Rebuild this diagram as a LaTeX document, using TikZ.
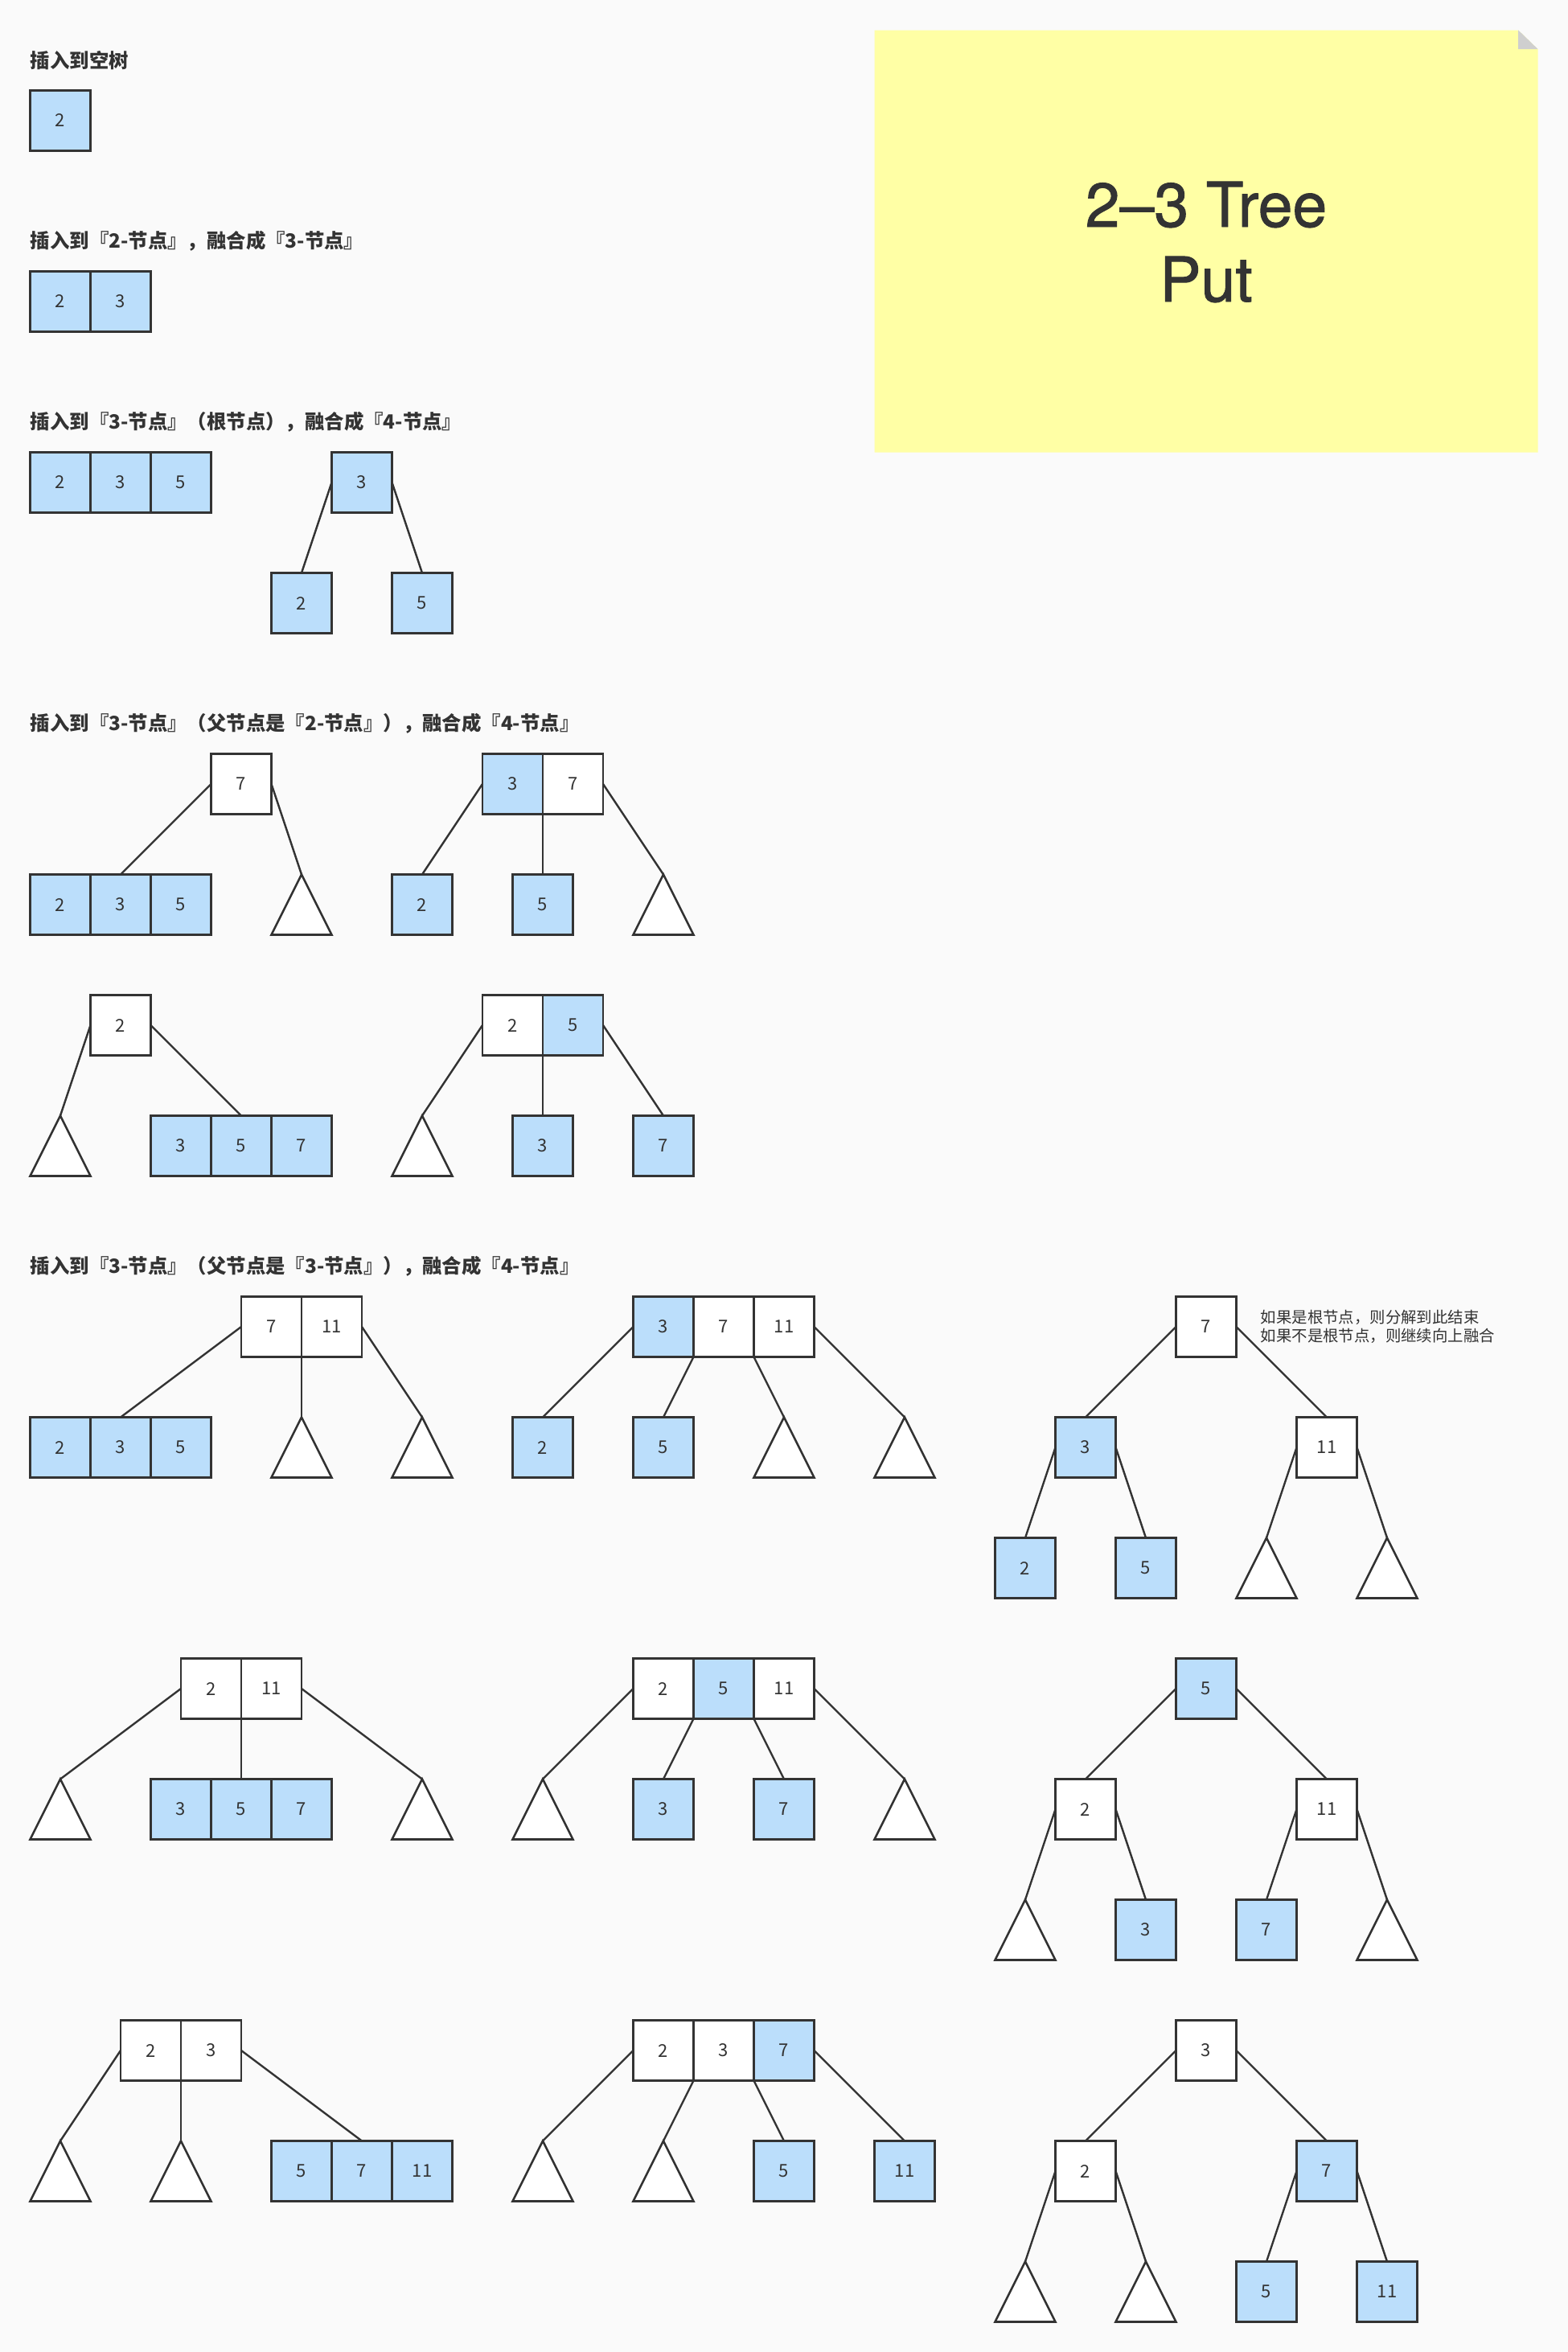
\documentclass[tikz,border=0pt]{standalone}
\usepackage{fontspec}
\newfontfamily\cjk{Noto Sans CJK SC}
\newfontfamily\heros[FakeBold=1.2]{TeX Gyre Heros}
\definecolor{ink}{HTML}{333333}
\definecolor{lblue}{HTML}{BBDEFB}
\definecolor{bg}{HTML}{FAFAFA}
\definecolor{sticky}{HTML}{FFFFA5}
\definecolor{foldgray}{HTML}{CFCFCF}
\newcommand\mytri[2]{\coordinate (#1) at (#2); \draw[tri] (#1) -- ++(-1,2) -- ++(2,0) -- cycle;}
\begin{document}
\begin{tikzpicture}[x=18.75pt,y=-18.75pt,
  cell/.style={draw=ink, line width=1.3pt, minimum width=37.5pt, minimum height=37.5pt, inner sep=0pt, outer sep=0pt, text=ink, font=\cjk\fontsize{11}{13}\selectfont},
  bc/.style={cell, fill=lblue},
  wc/.style={cell, fill=white},
  edge/.style={draw=ink, line width=1.2pt},
  tri/.style={draw=ink, line width=1.3pt, fill=white},
  head/.style={anchor=west, inner sep=0pt, text=ink, font=\cjk\bfseries\fontsize{12.2}{14}\selectfont}]
\fill[bg] (0,0) rectangle (52,78);
\useasboundingbox (0,0) rectangle (52,78);

% sticky note
\fill[sticky] (29,1) -- (50.35,1) -- (51,1.63) -- (51,15) -- (29,15) -- cycle;
\fill[foldgray] (50.35,1) -- (50.35,1.63) -- (51,1.63) -- cycle;
\node[anchor=base, inner sep=0pt, text=ink, font=\heros\fontsize{38.5}{46}\selectfont] (title1) at (40,7.52) {2–3 Tree};
\node[anchor=base, inner sep=0pt, text=ink, font=\heros\fontsize{38.5}{46}\selectfont] (title2) at (40,10) {Put};

% section 1
\node[head] (h1) at (1,2) {插入到空树};
\node[bc] (s1a) at (2,4) {2};

% section 2
\node[head] (h2) at (1,8) {插入到『2-节点』，融合成『3-节点』};
\node[bc] (s2a) at (2,10) {2};
\node[bc] (s2b) at (4,10) {3};

% section 3
\node[head] (h3) at (1,14) {插入到『3-节点』（根节点），融合成『4-节点』};
\node[bc] (s3a) at (2,16) {2};
\node[bc] (s3b) at (4,16) {3};
\node[bc] (s3c) at (6,16) {5};
\node[bc] (r3) at (12,16) {3};
\node[bc] (r2) at (10,20) {2};
\node[bc] (r5) at (14,20) {5};
\draw[edge] (r3.west) -- (r2.north);
\draw[edge] (r3.east) -- (r5.north);

% section 4
\node[head] (h4) at (1,24) {插入到『3-节点』（父节点是『2-节点』），融合成『4-节点』};
% tree A
\node[wc] (a7) at (8,26) {7};
\node[bc] (a2) at (2,30) {2};
\node[bc] (a3) at (4,30) {3};
\node[bc] (a5) at (6,30) {5};
\mytri{at1}{10,29}
\draw[edge] (a7.west) -- (a3.north);
\draw[edge] (a7.east) -- (at1);
% tree B
\node[bc] (b3) at (17,26) {3};
\node[wc] (b7) at (19,26) {7};
\node[bc] (b2) at (14,30) {2};
\node[bc] (b5) at (18,30) {5};
\mytri{bt1}{22,29}
\draw[edge] (b3.west) -- (b2.north);
\draw[edge] (b3.south east) -- (b5.north);
\draw[edge] (b7.east) -- (bt1);
% tree C
\node[wc] (c2) at (4,34) {2};
\mytri{ct1}{2,37}
\node[bc] (c3) at (6,38) {3};
\node[bc] (c5) at (8,38) {5};
\node[bc] (c7) at (10,38) {7};
\draw[edge] (c2.west) -- (ct1);
\draw[edge] (c2.east) -- (c5.north);
% tree D
\node[wc] (d2) at (17,34) {2};
\node[bc] (d5) at (19,34) {5};
\mytri{dt1}{14,37}
\node[bc] (d3) at (18,38) {3};
\node[bc] (d7) at (22,38) {7};
\draw[edge] (d2.west) -- (dt1);
\draw[edge] (d2.south east) -- (d3.north);
\draw[edge] (d5.east) -- (d7.north);

% section 5
\node[head] (h5) at (1,42) {插入到『3-节点』（父节点是『3-节点』），融合成『4-节点』};
% tree E
\node[wc] (e7) at (9,44) {7};
\node[wc] (e11) at (11,44) {11};
\node[bc] (e2) at (2,48) {2};
\node[bc] (e3) at (4,48) {3};
\node[bc] (e5) at (6,48) {5};
\mytri{et1}{10,47}
\mytri{et2}{14,47}
\draw[edge] (e7.west) -- (e3.north);
\draw[edge] (e7.south east) -- (et1);
\draw[edge] (e11.east) -- (et2);
% tree F
\node[bc] (f3) at (22,44) {3};
\node[wc] (f7) at (24,44) {7};
\node[wc] (f11) at (26,44) {11};
\node[bc] (f2) at (18,48) {2};
\node[bc] (f5) at (22,48) {5};
\mytri{ft1}{26,47}
\mytri{ft2}{30,47}
\draw[edge] (f3.west) -- (f2.north);
\draw[edge] (f3.south east) -- (f5.north);
\draw[edge] (f7.south east) -- (ft1);
\draw[edge] (f11.east) -- (ft2);
% tree G
\node[wc] (g7) at (40,44) {7};
\node[bc] (g3) at (36,48) {3};
\node[wc] (g11) at (44,48) {11};
\node[bc] (g2) at (34,52) {2};
\node[bc] (g5) at (38,52) {5};
\mytri{gt1}{42,51}
\mytri{gt2}{46,51}
\draw[edge] (g7.west) -- (g3.north);
\draw[edge] (g7.east) -- (g11.north);
\draw[edge] (g3.west) -- (g2.north);
\draw[edge] (g3.east) -- (g5.north);
\draw[edge] (g11.west) -- (gt1);
\draw[edge] (g11.east) -- (gt2);
\node[anchor=west, align=left, inner sep=0pt, text=ink, font=\cjk\fontsize{9.7}{11.5}\selectfont] (note) at (41.8,44) {如果是根节点，则分解到此结束\\如果不是根节点，则继续向上融合};

% tree H
\node[wc] (h2n) at (7,56) {2};
\node[wc] (h11) at (9,56) {11};
\mytri{ht1}{2,59}
\node[bc] (hh3) at (6,60) {3};
\node[bc] (hh5) at (8,60) {5};
\node[bc] (hh7) at (10,60) {7};
\mytri{ht2}{14,59}
\draw[edge] (h2n.west) -- (ht1);
\draw[edge] (h2n.south east) -- (hh5.north);
\draw[edge] (h11.east) -- (ht2);
% tree I
\node[wc] (i2) at (22,56) {2};
\node[bc] (i5) at (24,56) {5};
\node[wc] (i11) at (26,56) {11};
\mytri{it1}{18,59}
\node[bc] (i3) at (22,60) {3};
\node[bc] (i7) at (26,60) {7};
\mytri{it2}{30,59}
\draw[edge] (i2.west) -- (it1);
\draw[edge] (i2.south east) -- (i3.north);
\draw[edge] (i5.south east) -- (i7.north);
\draw[edge] (i11.east) -- (it2);
% tree J
\node[bc] (j5) at (40,56) {5};
\node[wc] (j2) at (36,60) {2};
\node[wc] (j11) at (44,60) {11};
\mytri{jt1}{34,63}
\node[bc] (j3) at (38,64) {3};
\node[bc] (j7) at (42,64) {7};
\mytri{jt2}{46,63}
\draw[edge] (j5.west) -- (j2.north);
\draw[edge] (j5.east) -- (j11.north);
\draw[edge] (j2.west) -- (jt1);
\draw[edge] (j2.east) -- (j3.north);
\draw[edge] (j11.west) -- (j7.north);
\draw[edge] (j11.east) -- (jt2);

% tree K
\node[wc] (k2) at (5,68) {2};
\node[wc] (k3) at (7,68) {3};
\mytri{kt1}{2,71}
\mytri{kt2}{6,71}
\node[bc] (k5) at (10,72) {5};
\node[bc] (k7) at (12,72) {7};
\node[bc] (k11) at (14,72) {11};
\draw[edge] (k2.west) -- (kt1);
\draw[edge] (k2.south east) -- (kt2);
\draw[edge] (k3.east) -- (k7.north);
% tree L
\node[wc] (l2) at (22,68) {2};
\node[wc] (l3) at (24,68) {3};
\node[bc] (l7) at (26,68) {7};
\mytri{lt1}{18,71}
\mytri{lt2}{22,71}
\node[bc] (l5) at (26,72) {5};
\node[bc] (l11) at (30,72) {11};
\draw[edge] (l2.west) -- (lt1);
\draw[edge] (l2.south east) -- (lt2);
\draw[edge] (l3.south east) -- (l5.north);
\draw[edge] (l7.east) -- (l11.north);
% tree M
\node[wc] (m3) at (40,68) {3};
\node[wc] (m2) at (36,72) {2};
\node[bc] (m7) at (44,72) {7};
\mytri{mt1}{34,75}
\mytri{mt2}{38,75}
\node[bc] (m5) at (42,76) {5};
\node[bc] (m11) at (46,76) {11};
\draw[edge] (m3.west) -- (m2.north);
\draw[edge] (m3.east) -- (m7.north);
\draw[edge] (m2.west) -- (mt1);
\draw[edge] (m2.east) -- (mt2);
\draw[edge] (m7.west) -- (m5.north);
\draw[edge] (m7.east) -- (m11.north);
\end{tikzpicture}
\end{document}
